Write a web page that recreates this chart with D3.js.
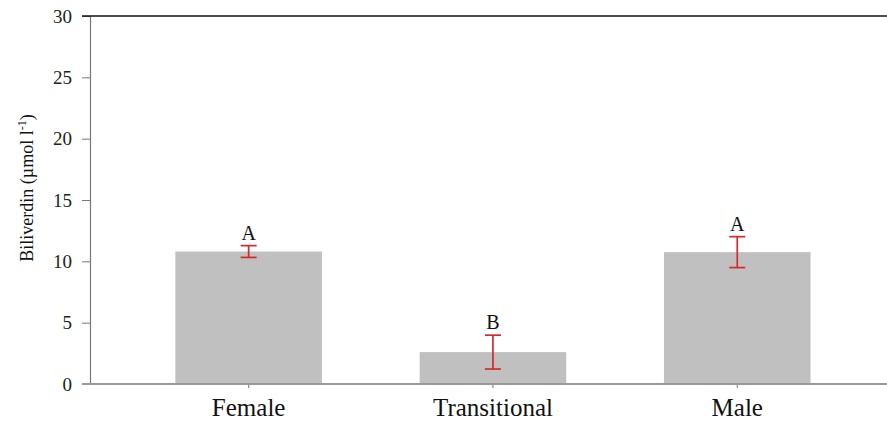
<!DOCTYPE html>
<html>
<head>
<meta charset="utf-8">
<script src="https://cdn.jsdelivr.net/npm/d3@7/dist/d3.min.js"></script>
<style>
  html, body { margin: 0; padding: 0; background: #fff; }
  svg { display: block; }
</style>
</head>
<body>
<svg id="chart" width="887" height="423"></svg>
<script>
// Biliverdin concentration by sex group (mean ± SE)
const categories = ["Female", "Transitional", "Male"];
const means = [10.8, 2.6, 10.75];
const errors = [0.48, 1.38, 1.26];
const groupLetters = ["A", "B", "A"];
const yTicks = [0, 5, 10, 15, 20, 25, 30];

const SERIF = "'Liberation Serif', 'Times New Roman', serif";
const svg = d3.select("#chart");
const W = 887;
const plotLeft = 90, plotTop = 16, plotBottom = 384;

const x = d3.scaleBand()
  .domain(categories)
  .range([126.5, 859.4])
  .paddingInner(0.4)
  .paddingOuter(0.2);

const y = d3.scaleLinear().domain([0, 30]).range([plotBottom, plotTop]);

// bars
svg.append("g").selectAll("rect")
  .data(categories)
  .join("rect")
  .attr("x", d => x(d))
  .attr("width", x.bandwidth())
  .attr("y", (d, i) => y(means[i]))
  .attr("height", (d, i) => y(0) - y(means[i]))
  .attr("fill", "#c0c0c0");

// error bars and group letters
const eb = svg.append("g").attr("stroke", "#d42a2a").attr("stroke-width", 1.7);
categories.forEach((c, i) => {
  const cx = x(c) + x.bandwidth() / 2;
  const hi = y(means[i] + errors[i]);
  const lo = y(means[i] - errors[i]);
  eb.append("line").attr("x1", cx).attr("x2", cx).attr("y1", hi).attr("y2", lo);
  eb.append("line").attr("x1", cx - 8).attr("x2", cx + 8).attr("y1", hi).attr("y2", hi);
  eb.append("line").attr("x1", cx - 8).attr("x2", cx + 8).attr("y1", lo).attr("y2", lo);
  svg.append("text")
    .attr("x", cx)
    .attr("y", hi - 6)
    .attr("text-anchor", "middle")
    .style("font-family", SERIF)
    .style("font-size", "20px")
    .attr("fill", "#111")
    .text(groupLetters[i]);
});

// y axis
const yAxis = svg.append("g")
  .attr("transform", `translate(${plotLeft},0)`)
  .call(d3.axisLeft(y).tickValues(yTicks).tickSize(8).tickPadding(10));
yAxis.select(".domain").attr("stroke", "#777").attr("stroke-width", 1.2);
yAxis.selectAll(".tick line").attr("stroke", "#777");
yAxis.selectAll(".tick text")
  .style("font-family", SERIF)
  .style("font-size", "19px")
  .attr("fill", "#222");

// x axis
const xAxis = svg.append("g")
  .attr("transform", `translate(0,${plotBottom})`)
  .call(d3.axisBottom(x).tickSize(4).tickPadding(10).tickSizeOuter(0));
xAxis.select(".domain").remove();
xAxis.selectAll(".tick line").attr("stroke", "#777");
xAxis.selectAll(".tick text")
  .style("font-family", SERIF)
  .style("font-size", "25px")
  .attr("fill", "#111");
svg.append("line")
  .attr("x1", plotLeft - 8).attr("x2", W)
  .attr("y1", plotBottom).attr("y2", plotBottom)
  .attr("stroke", "#999").attr("stroke-width", 2);

// top frame line
svg.append("line")
  .attr("x1", plotLeft - 8).attr("x2", W)
  .attr("y1", plotTop).attr("y2", plotTop)
  .attr("stroke", "#111").attr("stroke-width", 1.6);

// y axis title
const yt = svg.append("text")
  .attr("transform", "translate(33,188) rotate(-90)")
  .attr("text-anchor", "middle")
  .style("font-family", SERIF)
  .style("font-size", "18px")
  .attr("fill", "#111");
yt.append("tspan").text("Biliverdin (µmol l");
yt.append("tspan").attr("dy", -7).style("font-size", "12px").text("-1");
yt.append("tspan").attr("dy", 7).text(")");
</script>
</body>
</html>
